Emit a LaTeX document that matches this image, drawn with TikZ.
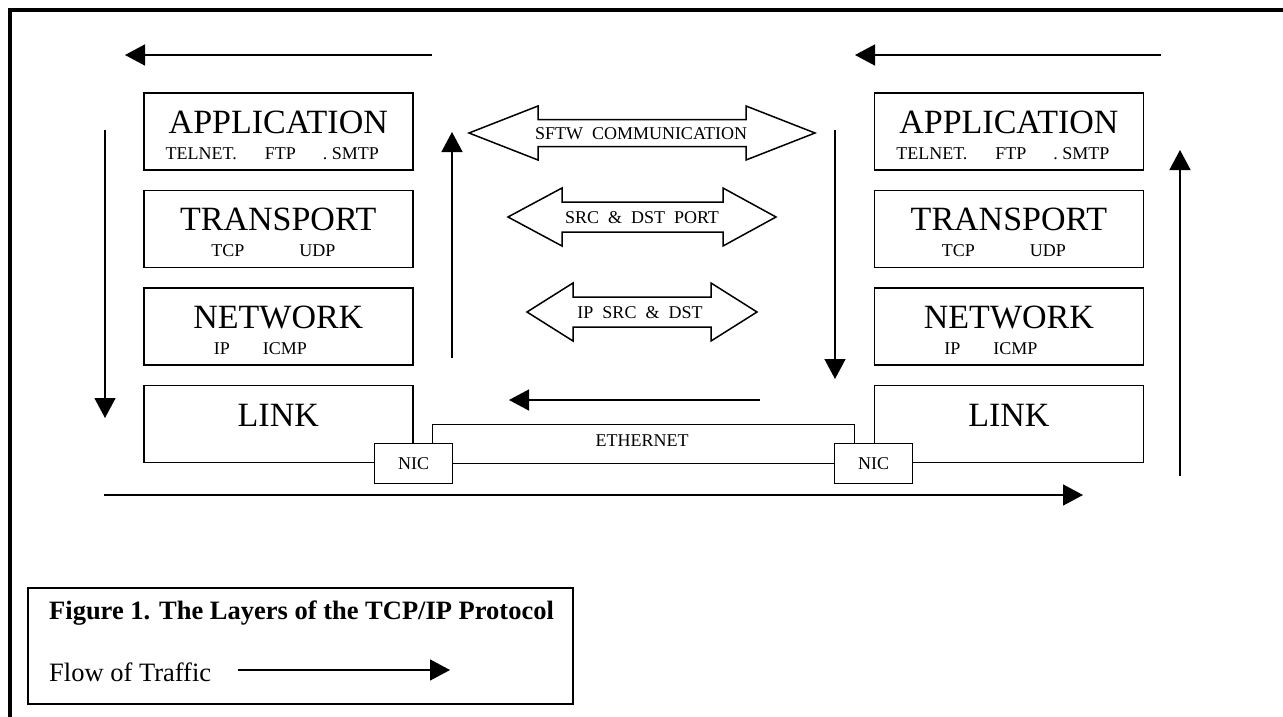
\documentclass[tikz,border=0pt]{standalone}
\usepackage{fontspec}
\setmainfont{Liberation Serif}
\usetikzlibrary{positioning,arrows.meta}

\tikzset{
  layer/.style={draw, line width=1.6pt, minimum width=269pt, minimum height=77pt, inner sep=0pt},
  bigtxt/.style={font=\fontsize{34}{34}\selectfont, anchor=base, inner sep=0pt},
  smalltxt/.style={font=\fontsize{18}{18}\selectfont, anchor=base, inner sep=0pt},
  nicbox/.style={draw, fill=white, line width=1.6pt, minimum width=78pt, minimum height=40pt, inner sep=0pt, font=\fontsize{18}{18}\selectfont},
  flow/.style={line width=1.5pt, -{Triangle[length=20pt,width=21pt]}},
  dblarrow/.style={draw, line width=1.5pt, line join=miter},
  legendtxt/.style={font=\fontsize{26.5}{26.5}\selectfont, anchor=base west, inner sep=0pt},
}

\begin{document}
\begin{tikzpicture}[x=1pt,y=-1pt]
\useasboundingbox (0,0) rectangle (1283,717);

% outer frame
\draw[line width=3.5pt] (1283,10) -- (10,10) -- (10,717);

% protocol stacks
\node[layer, anchor=north west] (appL) at (143,92) {};
\node[layer, below=19pt of appL] (trnL) {};
\node[layer, below=19pt of trnL] (netL) {};
\node[layer, below=19pt of netL] (lnkL) {};
\node[layer, right=460pt of appL] (appR) {};
\node[layer, below=19pt of appR] (trnR) {};
\node[layer, below=19pt of trnR] (netR) {};
\node[layer, below=19pt of netR] (lnkR) {};

\foreach \s in {L,R}{
  \node[bigtxt] (appname\s) at ([yshift=-41pt]app\s.north) {APPLICATION};
  \node[smalltxt] (appprot\s) at ([xshift=-6pt,yshift=-67pt]app\s.north) {TELNET.\hspace{28pt}FTP\hspace{27pt}.\ SMTP};
  \node[bigtxt] (trnname\s) at ([yshift=-41pt]trn\s.north) {TRANSPORT};
  \node[smalltxt] (trnprot\s) at ([xshift=-5pt,yshift=-67pt]trn\s.north) {TCP\hspace{55pt}UDP};
  \node[bigtxt] (netname\s) at ([yshift=-41pt]net\s.north) {NETWORK};
  \node[smalltxt] (netprot\s) at ([xshift=-18pt,yshift=-67pt]net\s.north) {IP\hspace{33pt}ICMP};
  \node[bigtxt] (lnkname\s) at ([yshift=-42pt]lnk\s.north) {LINK};
}

% network cards and ethernet
\node[nicbox] (nicL) at (lnkL.south east) {NIC};
\node[nicbox] (nicR) at (lnkR.south west) {NIC};
\draw[line width=1.6pt] (nicL.east) -- (nicR.west);
\draw[line width=1.6pt] ([xshift=19pt]nicL.north) -- ++(0,-18) -| ([xshift=-19pt]nicR.north);
\node[smalltxt] (ether) at (642,446) {ETHERNET};

% peer exchanges
\draw[dblarrow] (469,133) -- (538,106) -- (538,119.5) -- (746,119.5) -- (746,106) -- (815,133)
  -- (746,160) -- (746,146.5) -- (538,146.5) -- (538,160) -- cycle;
\node[smalltxt, anchor=center] (sftw) at (641,134) {SFTW\hspace{9pt}COMMUNICATION};
\draw[dblarrow] (508,217) -- (562,188) -- (562,202) -- (723,202) -- (723,188) -- (776,217)
  -- (723,246) -- (723,232) -- (562,232) -- (562,246) -- cycle;
\node[smalltxt, anchor=center] (port) at (642,218) {SRC\hspace{9pt}\&\hspace{9pt}DST\hspace{9pt}PORT};
\draw[dblarrow] (527,312) -- (573,283) -- (573,297) -- (711,297) -- (711,283) -- (757,312)
  -- (711,341) -- (711,327) -- (573,327) -- (573,341) -- cycle;
\node[smalltxt, anchor=center] (ipsd) at (640,313) {IP\hspace{9pt}SRC\hspace{9pt}\&\hspace{9pt}DST};

% flow of traffic
\coordinate (topLa) at (432,55);  \coordinate (topLb) at (125,55);
\coordinate (topRa) at (1161,55); \coordinate (topRb) at (855,55);
\coordinate (downLa) at (105,130); \coordinate (downLb) at (105,418);
\coordinate (upLa) at (452,358);   \coordinate (upLb) at (452,132);
\coordinate (downRa) at (835,130); \coordinate (downRb) at (835,379);
\coordinate (upRa) at (1180,476);  \coordinate (upRb) at (1180,150);
\coordinate (midA) at (760,400);   \coordinate (midB) at (509,400);
\coordinate (botA) at (104,495);   \coordinate (botB) at (1083,495);
\draw[flow] (topLa) -- (topLb);
\draw[flow] (topRa) -- (topRb);
\draw[flow] (downLa) -- (downLb);
\draw[flow] (upLa) -- (upLb);
\draw[flow] (downRa) -- (downRb);
\draw[flow] (upRa) -- (upRb);
\draw[flow] (midA) -- (midB);
\draw[flow] (botA) -- (botB);

% legend
\node[draw, line width=1.6pt, anchor=north west, minimum width=545pt, minimum height=116pt, inner sep=0pt] (legend) at (27,587) {};
\node[legendtxt, font=\fontsize{26.5}{26.5}\selectfont\bfseries] (caption) at (49,619) {Figure 1. The Layers of the TCP/IP Protocol};
\node[legendtxt] (flowtxt) at (49,681) {Flow of Traffic};
\coordinate (keyA) at (238,670); \coordinate (keyB) at (450,670);
\draw[flow] (keyA) -- (keyB);
\end{tikzpicture}
\end{document}
